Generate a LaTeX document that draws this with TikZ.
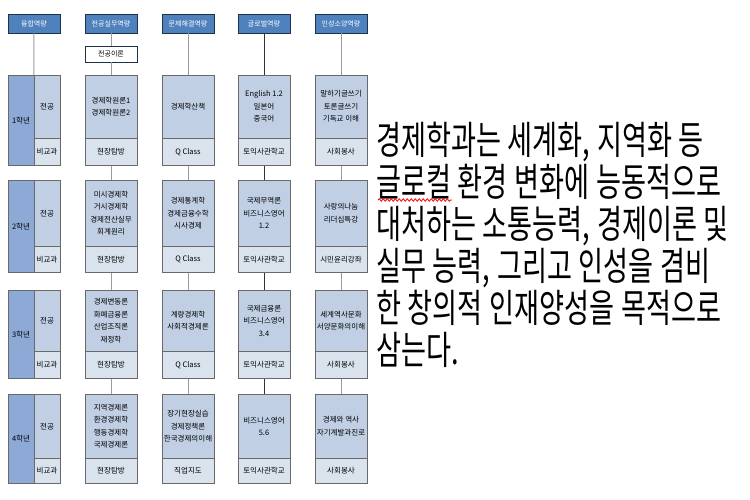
\documentclass[tikz,border=0pt]{standalone}
\usepackage{fontspec}
\setmainfont{Noto Sans CJK KR}
\newfontfamily\bigkr[FakeStretch=0.697,WordSpace=1.1]{Noto Sans CJK KR}
\usepackage{tikz}
\usetikzlibrary{positioning,decorations.pathmorphing}

\definecolor{hdrblue}{RGB}{79,129,189}
\definecolor{hdredge}{RGB}{30,50,80}
\definecolor{topfill}{RGB}{192,207,228}
\definecolor{botfill}{RGB}{218,226,238}
\definecolor{gradefill}{RGB}{141,169,214}
\definecolor{boxedge}{RGB}{105,105,105}
\definecolor{linkgray}{RGB}{155,155,155}

\tikzset{
  hdr/.style={draw=hdredge, fill=hdrblue, text=white, line width=0.8pt,
    minimum width=52pt, minimum height=19pt, inner sep=0pt,
    font=\fontsize{7}{8}\selectfont},
  theory/.style={draw=hdredge, fill=white, line width=0.8pt,
    minimum width=52pt, minimum height=16pt, inner sep=0pt,
    font=\fontsize{7}{8}\selectfont},
  subj/.style={draw=boxedge, fill=topfill, minimum width=52pt, inner sep=0pt,
    align=center, font=\fontsize{7.5}{12.5}\selectfont},
  extra/.style={draw=boxedge, fill=botfill, minimum width=52pt, inner sep=0pt,
    font=\fontsize{7.5}{9}\selectfont},
  grade/.style={draw=boxedge, fill=gradefill, minimum width=26pt, inner sep=0pt,
    font=\fontsize{7.5}{9}\selectfont},
  link/.style={draw=linkgray, line width=1pt},
  darklink/.style={draw=black!80, line width=1pt},
  squig/.style={draw=red, line width=0.8pt, decorate,
    decoration={snake, amplitude=1.2pt, segment length=4pt}},
}

\begin{document}
\begin{tikzpicture}[x=1pt,y=-1pt]
\useasboundingbox (0,0) rectangle (750,500);

% headers
\node[hdr] (h1) at (34,23.5) {융합역량};
\node[hdr] (h2) at (111,23.5) {전공실무역량};
\node[hdr] (h3) at (188,23.5) {문제해결역량};
\node[hdr] (h4) at (264,23.5) {글로벌역량};
\node[hdr] (h5) at (341,23.5) {인성소양역량};
\node[theory] (p) at (111,54) {전공이론};

% grade column
\node[grade, minimum height=90pt, anchor=north] (g1) at (21,75) {1학년};
\node[grade, minimum height=92pt, anchor=north] (g2) at (21,180) {2학년};
\node[grade, minimum height=88pt, anchor=north] (g3) at (21,290) {3학년};
\node[grade, minimum height=89pt, anchor=north] (g4) at (21,394) {4학년};
\foreach \r/\y/\t/\b in {1/75/63/27, 2/180/66/26, 3/290/61/27, 4/394/64/25} {
  \node[subj, minimum width=26pt, minimum height=\t pt, anchor=north] (j\r) at (47,\y) {전공};
  \node[extra, minimum width=26pt, minimum height=\b pt, below=0pt of j\r] (k\r) {비교과};
}

% 1st year
\node[subj, minimum height=63pt, anchor=north] (b1) at (111,75) {경제학원론1\\경제학원론2};
\node[extra, minimum height=27pt, below=0pt of b1] (b1x) {현장탐방};
\node[subj, minimum height=63pt, anchor=north] (c1) at (188,75) {경제학산책};
\node[extra, minimum height=27pt, below=0pt of c1] (c1x) {Q Class};
\node[subj, minimum height=63pt, anchor=north] (d1) at (264,75) {English 1.2\\일본어\\중국어};
\node[extra, minimum height=27pt, below=0pt of d1] (d1x) {토익사관학교};
\node[subj, minimum height=63pt, anchor=north] (e1) at (341,75) {말하기글쓰기\\토론글쓰기\\기독교 이해};
\node[extra, minimum height=27pt, below=0pt of e1] (e1x) {사회봉사};

% 2nd year
\node[subj, minimum height=66pt, anchor=north] (b2) at (111,180) {미시경제학\\거시경제학\\경제전산실무\\회계원리};
\node[extra, minimum height=26pt, below=0pt of b2] (b2x) {현장탐방};
\node[subj, minimum height=66pt, anchor=north] (c2) at (188,180) {경제통계학\\경제금융수학\\시사경제};
\node[extra, minimum height=26pt, below=0pt of c2] (c2x) {Q Class};
\node[subj, minimum height=66pt, anchor=north] (d2) at (264,180) {국제무역론\\비즈니스영어\\1.2};
\node[extra, minimum height=26pt, below=0pt of d2] (d2x) {토익사관학교};
\node[subj, minimum height=66pt, anchor=north] (e2) at (341,180) {사랑의나눔\\리더십특강};
\node[extra, minimum height=26pt, below=0pt of e2] (e2x) {시민윤리강좌};

% 3rd year
\node[subj, minimum height=61pt, anchor=north] (b3) at (111,290) {경제변동론\\화폐금융론\\산업조직론\\재정학};
\node[extra, minimum height=27pt, below=0pt of b3] (b3x) {현장탐방};
\node[subj, minimum height=61pt, anchor=north] (c3) at (188,290) {계량경제학\\사회적경제론};
\node[extra, minimum height=27pt, below=0pt of c3] (c3x) {Q Class};
\node[subj, minimum height=61pt, anchor=north] (d3) at (264,290) {국제금융론\\비즈니스영어\\3.4};
\node[extra, minimum height=27pt, below=0pt of d3] (d3x) {토익사관학교};
\node[subj, minimum height=61pt, anchor=north] (e3) at (341,290) {세계역사문화\\서양문화의이해};
\node[extra, minimum height=27pt, below=0pt of e3] (e3x) {사회봉사};

% 4th year
\node[subj, minimum height=64pt, anchor=north] (b4) at (111,394) {지역경제론\\환경경제학\\행동경제학\\국제경제론};
\node[extra, minimum height=25pt, below=0pt of b4] (b4x) {현장탐방};
\node[subj, minimum height=64pt, anchor=north] (c4) at (188,394) {장기현장실습\\경제정책론\\한국경제의이해};
\node[extra, minimum height=25pt, below=0pt of c4] (c4x) {직업지도};
\node[subj, minimum height=64pt, anchor=north] (d4) at (264,394) {비즈니스영어\\5.6};
\node[extra, minimum height=25pt, below=0pt of d4] (d4x) {토익사관학교};
\node[subj, minimum height=64pt, anchor=north] (e4) at (341,394) {경제와 역사\\자기계발과진로};
\node[extra, minimum height=25pt, below=0pt of e4] (e4x) {사회봉사};

% connectors
\draw[link] (h1) -- (j1.north west);
\draw[link] (h2) -- (p);
\draw[link] (p) -- (b1);
\draw[link] (h3) -- (c1);
\draw[darklink] (h4) -- (d1);
\draw[link] (h5) -- (e1);
\foreach \r/\s in {1/2, 2/3, 3/4} {
  \draw[link] (b\r x) -- (b\s);
  \draw[link] (c\r x) -- (c\s);
  \draw[darklink] (d\r x) -- (d\s);
  \draw[link] (e\r x) -- (e\s);
}

% description
\node[anchor=north west, align=left, inner sep=0pt,
  font=\bigkr\fontsize{39}{42}\selectfont] (t) at (376,122)
  {경제학과는 세계화, 지역화 등\\
   글로컬 환경 변화에 능동적으로\\
   대처하는 소통능력, 경제이론 및\\
   실무 능력, 그리고 인성을 겸비\\
   한 창의적 인재양성을 목적으로\\
   삼는다.};
\draw[squig] (378,200) -- (452,200);
\end{tikzpicture}
\end{document}
